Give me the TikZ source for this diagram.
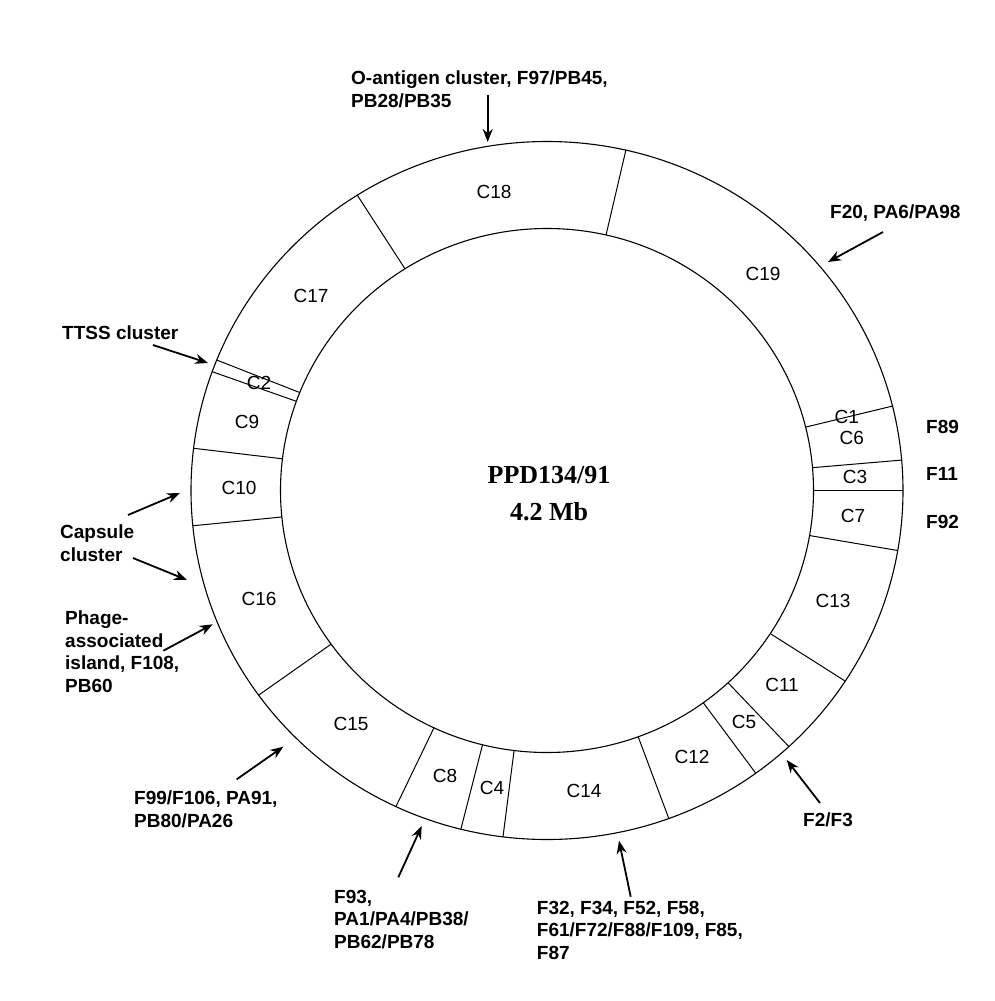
\documentclass[tikz,border=0pt]{standalone}
\usepackage{fontspec}
\setmainfont{Liberation Sans}
\newfontfamily\serifb{Liberation Serif}
\usetikzlibrary{arrows.meta}
\begin{document}
\begin{tikzpicture}[x=1pt,y=-1pt,
  seg/.style={font=\fontsize{19}{22}\selectfont, inner sep=0pt},
  ann/.style={font=\fontsize{19}{22.5}\selectfont\bfseries, inner sep=0pt, align=left, anchor=north west},
  arr/.style={line width=1.8pt, -{Stealth[length=13pt,width=10pt]}},
  ring/.style={line width=1.1pt},
  divider/.style={line width=1pt}]
\useasboundingbox (0,0) rectangle (995,1001);
\fill[white] (0,0) rectangle (995,1001);
% ring
\draw[ring] (547,490.5) ellipse [x radius=356, y radius=349];
\draw[ring] (547,490.5) ellipse [x radius=266.5, y radius=262];
\foreach \t in {122.2, 77.2, 14.0, 5.0, 0, -9.9, -33.1, -47.2, -54.1, -70, -97.1, -104, -115.1, -144.1, 185.8, 173.05, 160.1, 158.05}
  \draw[divider] ({547+266.5*cos(\t)},{490.5-262*sin(\t)}) -- ({547+356*cos(\t)},{490.5-349*sin(\t)});
% segment labels
\node[seg] (c1) at (846.7,416.7) {C1};
\node[seg] (c6) at (851.7,438.3) {C6};
\node[seg] (c3) at (855,477) {C3};
\node[seg] (c7) at (853,516) {C7};
\node[seg] (c13) at (833,601) {C13};
\node[seg] (c11) at (782,685) {C11};
\node[seg] (c5) at (744,722) {C5};
\node[seg] (c12) at (692,757) {C12};
\node[seg] (c14) at (584,791) {C14};
\node[seg] (c4) at (492,788) {C4};
\node[seg] (c8) at (445,776) {C8};
\node[seg] (c15) at (351,724) {C15};
\node[seg] (c16) at (259,599) {C16};
\node[seg] (c10) at (239,488) {C10};
\node[seg] (c9) at (247,421.5) {C9};
\node[seg] (c2) at (259,382.5) {C2};
\node[seg] (c17) at (311,296) {C17};
\node[seg] (c18) at (494,192) {C18};
\node[seg] (c19) at (763,274) {C19};
% centre title
\node[font=\serifb\bfseries\fontsize{26}{37}\selectfont, align=center, inner sep=0pt] (title) at (549,494) {PPD134/91\\4.2 Mb};
% annotations
\node[ann] (oant) at (351,71) {O-antigen cluster, F97/PB45,\\PB28/PB35};
\node[ann] (f20) at (830,205) {F20, PA6/PA98};
\node[ann] (ttss) at (62,326) {TTSS cluster};
\node[ann] (caps) at (60,525) {Capsule\\cluster};
\node[ann] (phage) at (65,611) {Phage-\\associated\\island, F108,\\PB60};
\node[ann] (f99) at (134,791) {F99/F106, PA91,\\PB80/PA26};
\node[ann] (f93) at (334,890) {F93,\\PA1/PA4/PB38/\\PB62/PB78};
\node[ann] (f32) at (536.7,901) {F32, F34, F52, F58,\\F61/F72/F88/F109, F85,\\F87};
\node[ann] (f2) at (803,813) {F2/F3};
\node[ann] (f89) at (926,420) {F89};
\node[ann] (f11) at (926,467) {F11};
\node[ann] (f92) at (926,515) {F92};
% arrow coordinates
\coordinate (oantS) at (487.7,95);   \coordinate (oantT) at (487.7,142);
\coordinate (f20S) at (883,232);     \coordinate (f20T) at (828,262);
\coordinate (ttssS) at (153,345);    \coordinate (ttssT) at (208,363);
\coordinate (capsS1) at (128,515);   \coordinate (capsT1) at (180,493);
\coordinate (capsS2) at (133,558);   \coordinate (capsT2) at (187,580);
\coordinate (phageS) at (163.3,650.7); \coordinate (phageT) at (212.7,624.3);
\coordinate (f99S) at (236.7,779.3); \coordinate (f99T) at (283.3,746.7);
\coordinate (f93S) at (398.3,877.3); \coordinate (f93T) at (421.7,826);
\coordinate (f32S) at (630.7,896.7); \coordinate (f32T) at (619,840.7);
\coordinate (f2S) at (820,803);      \coordinate (f2T) at (786.7,760);
\draw[arr] (oantS) -- (oantT);
\draw[arr] (f20S) -- (f20T);
\draw[arr] (ttssS) -- (ttssT);
\draw[arr] (capsS1) -- (capsT1);
\draw[arr] (capsS2) -- (capsT2);
\draw[arr] (phageS) -- (phageT);
\draw[arr] (f99S) -- (f99T);
\draw[arr] (f93S) -- (f93T);
\draw[arr] (f32S) -- (f32T);
\draw[arr] (f2S) -- (f2T);
\end{tikzpicture}
\end{document}
